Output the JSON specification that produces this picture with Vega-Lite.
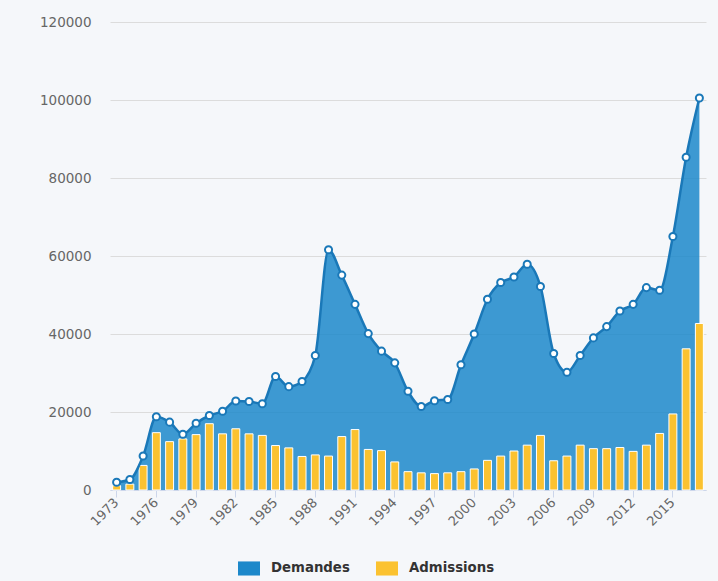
{
  "$schema": "https://vega.github.io/schema/vega-lite/v6.json",
  "autosize": {"type": "none"},
  "width": 596,
  "height": 468,
  "padding": {"left": 110, "top": 22, "right": 12, "bottom": 91},
  "background": "#f5f7fa",
  "config": {"view": {"stroke": null}, "font": "DejaVu Sans"},
  "data": {
    "values": [
      {"year": 1973, "Demandes": 2000, "Admissions": 1100},
      {"year": 1974, "Demandes": 2700, "Admissions": 1500},
      {"year": 1975, "Demandes": 8700, "Admissions": 6300},
      {"year": 1976, "Demandes": 18800, "Admissions": 14700},
      {"year": 1977, "Demandes": 17400, "Admissions": 12400},
      {"year": 1978, "Demandes": 14300, "Admissions": 13100},
      {"year": 1979, "Demandes": 17100, "Admissions": 14200},
      {"year": 1980, "Demandes": 19100, "Admissions": 17000},
      {"year": 1981, "Demandes": 20200, "Admissions": 14400},
      {"year": 1982, "Demandes": 22800, "Admissions": 15700},
      {"year": 1983, "Demandes": 22700, "Admissions": 14400},
      {"year": 1984, "Demandes": 22100, "Admissions": 14000},
      {"year": 1985, "Demandes": 29100, "Admissions": 11400},
      {"year": 1986, "Demandes": 26500, "Admissions": 10800},
      {"year": 1987, "Demandes": 27800, "Admissions": 8600},
      {"year": 1988, "Demandes": 34500, "Admissions": 9000},
      {"year": 1989, "Demandes": 61600, "Admissions": 8700},
      {"year": 1990, "Demandes": 55100, "Admissions": 13700},
      {"year": 1991, "Demandes": 47600, "Admissions": 15500},
      {"year": 1992, "Demandes": 40100, "Admissions": 10400},
      {"year": 1993, "Demandes": 35600, "Admissions": 10100},
      {"year": 1994, "Demandes": 32600, "Admissions": 7200},
      {"year": 1995, "Demandes": 25300, "Admissions": 4700},
      {"year": 1996, "Demandes": 21400, "Admissions": 4400},
      {"year": 1997, "Demandes": 22900, "Admissions": 4200},
      {"year": 1998, "Demandes": 23200, "Admissions": 4400},
      {"year": 1999, "Demandes": 32100, "Admissions": 4700},
      {"year": 2000, "Demandes": 40000, "Admissions": 5400},
      {"year": 2001, "Demandes": 48900, "Admissions": 7600},
      {"year": 2002, "Demandes": 53200, "Admissions": 8700},
      {"year": 2003, "Demandes": 54600, "Admissions": 10000},
      {"year": 2004, "Demandes": 57900, "Admissions": 11500},
      {"year": 2005, "Demandes": 52200, "Admissions": 14000},
      {"year": 2006, "Demandes": 35000, "Admissions": 7500},
      {"year": 2007, "Demandes": 30200, "Admissions": 8700},
      {"year": 2008, "Demandes": 34500, "Admissions": 11500},
      {"year": 2009, "Demandes": 39000, "Admissions": 10600},
      {"year": 2010, "Demandes": 41900, "Admissions": 10600},
      {"year": 2011, "Demandes": 45900, "Admissions": 10900},
      {"year": 2012, "Demandes": 47600, "Admissions": 9900},
      {"year": 2013, "Demandes": 51900, "Admissions": 11500},
      {"year": 2014, "Demandes": 51200, "Admissions": 14500},
      {"year": 2015, "Demandes": 65000, "Admissions": 19500},
      {"year": 2016, "Demandes": 85300, "Admissions": 36200},
      {"year": 2017, "Demandes": 100500, "Admissions": 42700}
    ]
  },
  "encoding": {
    "x": {
      "field": "year",
      "type": "ordinal",
      "scale": {"type": "band", "paddingInner": 0.4, "paddingOuter": 0.2},
      "axis": {
        "title": null,
        "values": [1973, 1976, 1979, 1982, 1985, 1988, 1991, 1994, 1997, 2000, 2003, 2006, 2009, 2012, 2015],
        "labelAngle": -45,
        "labelAlign": "right",
        "labelBaseline": "middle",
        "labelFontSize": 13,
        "labelColor": "#666666",
        "tickColor": "#ccd6eb",
        "tickSize": 7,
        "bandPosition": 0.5,
        "domainColor": "#ccd6eb",
        "labelPadding": 3,
        "grid": false
      }
    }
  },
  "layer": [
    {
      "mark": {"type": "area", "interpolate": "monotone", "fillOpacity": 0.85},
      "encoding": {
        "y": {
          "field": "Demandes",
          "type": "quantitative",
          "scale": {"domain": [0, 120000], "nice": false},
          "axis": {"title": null, "format": "d", "tickCount": 6, "grid": true, "gridColor": "#dcdcdc", "domain": false, "ticks": false, "labelPadding": 19, "labelFontSize": 13.5, "labelColor": "#666666"}
        },
        "color": {
          "datum": "Demandes",
          "scale": {"domain": ["Demandes", "Admissions"], "range": ["#1c88ca", "#fbc230"]},
          "legend": {
            "orient": "none",
            "legendX": 128,
            "legendY": 535,
            "direction": "horizontal",
            "title": null,
            "symbolType": "M-1,-0.64H1V0.64H-1Z",
            "symbolSize": 484,
            "symbolStrokeWidth": 0,
            "symbolOpacity": 1,
            "labelFontSize": 13.3,
            "labelFontWeight": "bold",
            "labelColor": "#333333",
            "columnPadding": 26,
            "labelOffset": 11
          }
        }
      }
    },
    {
      "mark": {"type": "bar", "stroke": "white", "strokeWidth": 1},
      "encoding": {
        "y": {"field": "Admissions", "type": "quantitative", "axis": {"title": null, "format": "d", "tickCount": 6, "grid": true, "gridColor": "#dcdcdc", "domain": false, "ticks": false, "labelPadding": 19, "labelFontSize": 13.5, "labelColor": "#666666"}},
        "color": {"datum": "Admissions"}
      }
    },
    {
      "mark": {"type": "line", "interpolate": "monotone", "stroke": "#1a78b8", "strokeWidth": 2.5},
      "encoding": {
        "y": {"field": "Demandes", "type": "quantitative"}
      }
    },
    {
      "mark": {"type": "point", "filled": true, "fill": "white", "stroke": "#1a78b8", "strokeWidth": 2, "size": 50, "opacity": 1},
      "encoding": {
        "y": {"field": "Demandes", "type": "quantitative"}
      }
    }
  ]
}
